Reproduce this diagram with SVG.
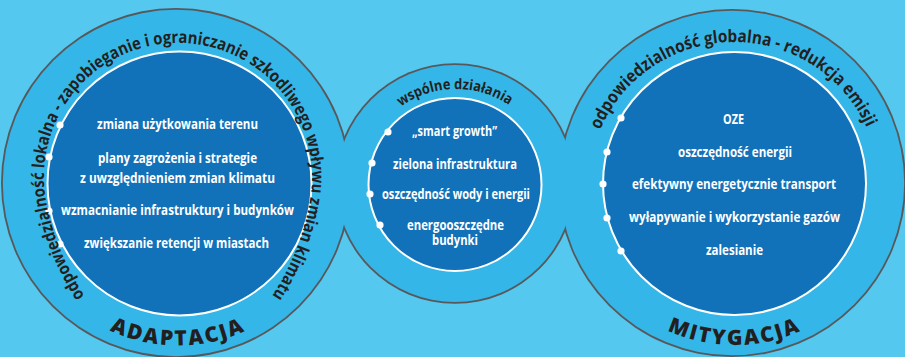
<svg xmlns="http://www.w3.org/2000/svg" width="905" height="357" viewBox="0 0 905 357">
<style>
.bg{fill:#55c8ef}
.outline{fill:#58585a}
.ring{fill:#34b7e8}
.inner{fill:#1171b9;stroke:#ffffff;stroke-width:2}
.dot{fill:#ffffff}
.lbl{font-family:"Open Sans","Noto Sans",sans-serif;font-weight:700;font-size:13.5px;fill:#ffffff;text-anchor:middle}
.arc{font-family:"Open Sans","Noto Sans",sans-serif;font-weight:700;font-size:17px;fill:#231f20}
.big{font-family:"Open Sans","Noto Sans",sans-serif;font-weight:800;font-size:21px;fill:#231f20;letter-spacing:2px}
</style>
<defs>
<path id="pLeft" d="M 85,297 C 70,273 53,240 46,200 A 134 134 0 1 1 310,200 C 303,240 288,272 272,296"/>
<path id="pRight" d="M 600,130 A 146 146 0 0 1 867,128"/>
<path id="pMid" d="M 400.8,106.7 A 95 95 0 0 1 511.2,106.7"/>
<path id="pAdapt" d="M 37.7,264.5 A 162 162 0 0 0 318.3,264.5"/>
<path id="pMit" d="M 594.6,264.25 A 161.5 161.5 0 0 0 874.4,264.25"/>
</defs>
<rect class="bg" x="0" y="0" width="905" height="357"/>
<g id="outlines">
<circle class="outline" cx="176" cy="183" r="175"/>
<circle class="outline" cx="455" cy="183.5" r="120.3"/>
<circle class="outline" cx="732" cy="183" r="174"/>
</g>
<g id="adaptacja">
<circle class="ring" cx="176" cy="183" r="173.2"/>
</g>
<g id="wspolne">
<circle class="ring" cx="455" cy="183.5" r="118.5"/>
</g>
<g id="mitygacja">
<circle class="ring" cx="732" cy="183" r="172.2"/>
</g>
<g id="adaptacja-content">
<circle class="inner" cx="179.5" cy="183.5" r="132"/>
<circle class="dot" cx="60" cy="125" r="3.6"/>
<circle class="dot" cx="49" cy="157" r="3.6"/>
<circle class="dot" cx="49" cy="211" r="3.6"/>
<circle class="dot" cx="60" cy="244" r="3.6"/>
<text class="lbl" x="177.5" y="129" textLength="161" lengthAdjust="spacingAndGlyphs">zmiana użytkowania terenu</text>
<text class="lbl" x="177.5" y="163" textLength="159" lengthAdjust="spacingAndGlyphs">plany zagrożenia i strategie</text>
<text class="lbl" x="177.5" y="182.5" textLength="195" lengthAdjust="spacingAndGlyphs">z uwzględnieniem zmian klimatu</text>
<text class="lbl" x="177.5" y="215" textLength="233" lengthAdjust="spacingAndGlyphs">wzmacnianie infrastruktury  i budynków</text>
<text class="lbl" x="176.5" y="248" textLength="185" lengthAdjust="spacingAndGlyphs">zwiększanie retencji w miastach</text>
<text class="arc"><textPath href="#pLeft" startOffset="1" textLength="675" lengthAdjust="spacingAndGlyphs">odpowiedzialność lokalna - zapobieganie i ograniczanie szkodliwego wpływu zmian klimatu</textPath></text>
<text class="big" text-anchor="middle"><textPath href="#pAdapt" startOffset="50%">ADAPTACJA</textPath></text>
</g>
<g id="wspolne-content">
<circle class="inner" cx="455" cy="184.5" r="86.5"/>
<circle class="dot" cx="388" cy="132" r="3.6"/>
<circle class="dot" cx="372" cy="163" r="3.6"/>
<circle class="dot" cx="370" cy="194" r="3.6"/>
<circle class="dot" cx="380" cy="225" r="3.6"/>
<text class="lbl" x="454.5" y="135.5" textLength="85" lengthAdjust="spacingAndGlyphs">„smart growth”</text>
<text class="lbl" x="455" y="168.5" textLength="124" lengthAdjust="spacingAndGlyphs">zielona infrastruktura</text>
<text class="lbl" x="456" y="198.5" textLength="148" lengthAdjust="spacingAndGlyphs">oszczędność wody i energii</text>
<text class="lbl" x="455.5" y="229.5" textLength="97" lengthAdjust="spacingAndGlyphs">energooszczędne</text>
<text class="lbl" x="455" y="244.5" textLength="46" lengthAdjust="spacingAndGlyphs">budynki</text>
<text class="arc" style="font-size:14.5px"><textPath href="#pMid" startOffset="0" textLength="115" lengthAdjust="spacingAndGlyphs">wspólne działania</textPath></text>
</g>
<g id="mitygacja-content">
<circle class="inner" cx="734.5" cy="183.5" r="131.5"/>
<circle class="dot" cx="621" cy="118" r="3.6"/>
<circle class="dot" cx="607" cy="152" r="3.6"/>
<circle class="dot" cx="603" cy="184" r="3.6"/>
<circle class="dot" cx="607" cy="218" r="3.6"/>
<circle class="dot" cx="621" cy="251" r="3.6"/>
<text class="lbl" x="733.5" y="124" textLength="21" lengthAdjust="spacingAndGlyphs">OZE</text>
<text class="lbl" x="735" y="156.5" textLength="114" lengthAdjust="spacingAndGlyphs">oszczędność energii</text>
<text class="lbl" x="734" y="188.5" textLength="204" lengthAdjust="spacingAndGlyphs">efektywny energetycznie transport</text>
<text class="lbl" x="734.5" y="221.5" textLength="211" lengthAdjust="spacingAndGlyphs">wyłapywanie i wykorzystanie gazów</text>
<text class="lbl" x="734.5" y="255" textLength="57" lengthAdjust="spacingAndGlyphs">zalesianie</text>
<text class="arc" style="font-size:17.5px"><textPath href="#pRight" startOffset="0" textLength="336" lengthAdjust="spacingAndGlyphs">odpowiedzialność globalna - redukcja emisji</textPath></text>
<text class="big" text-anchor="middle"><textPath href="#pMit" startOffset="50%">MITYGACJA</textPath></text>
</g>
</svg>
